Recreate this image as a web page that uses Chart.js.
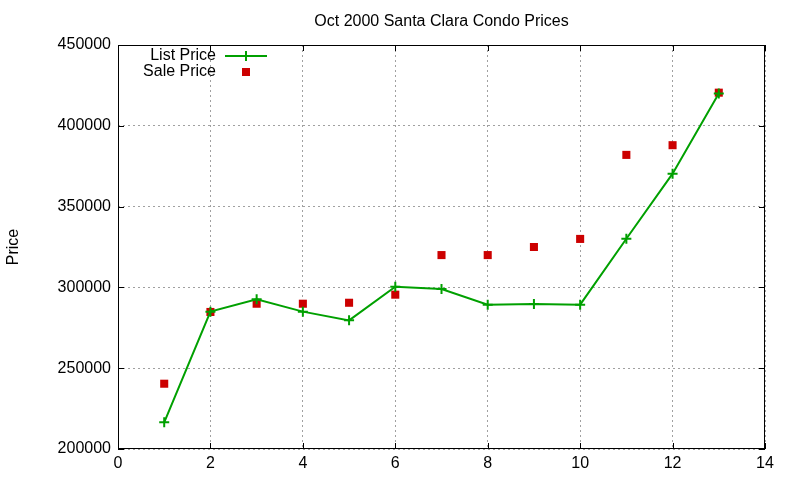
<!DOCTYPE html>
<html>
<head>
<meta charset="utf-8">
<style>
  html, body { margin: 0; padding: 0; background: #fff; }
  #wrap { width: 800px; height: 480px; }
</style>
<script src="https://cdn.jsdelivr.net/npm/chart.js@4/dist/chart.umd.min.js"></script>
</head>
<body>
<div id="wrap"><canvas id="grafico"></canvas></div>
<script>
// datos
const meses = [1, 2, 3, 4, 5, 6, 7, 8, 9, 10, 11, 12, 13];
const precioLista = [216500, 285000, 292600, 285000, 279600, 300400, 299000, 289300, 289700, 289300, 330100, 370400, 420000];
const precioVenta = [240400, 284800, 289900, 289900, 290500, 295500, 320000, 320000, 325000, 330000, 382000, 388000, 420500];
const ticksX = [0, 2, 4, 6, 8, 10, 12, 14];
const ticksY = [200000, 250000, 300000, 350000, 400000, 450000];

const VERDE = '#00a000';
const ROJO = '#cc0000';
const FUENTE = '"Liberation Sans", Arial, sans-serif';
const TITULO = 'Oct 2000 Santa Clara Condo Prices';

// marco, marcas hacia adentro, titulo y leyenda al estilo gnuplot
const marco = {
  id: 'marco',
  afterDraw(chart) {
    const ctx = chart.ctx;
    const a = chart.chartArea;
    const sx = chart.scales.x, sy = chart.scales.y;
    ctx.save();
    ctx.strokeStyle = '#000';
    ctx.lineWidth = 1;
    ctx.setLineDash([]);
    ctx.strokeRect(a.left + 0.5, a.top + 0.5, a.right - a.left - 1, a.bottom - a.top - 1);
    ctx.beginPath();
    ticksX.forEach(v => {
      const px = Math.round(sx.getPixelForValue(v)) + 0.5;
      ctx.moveTo(px, a.bottom); ctx.lineTo(px, a.bottom - 6);
      ctx.moveTo(px, a.top); ctx.lineTo(px, a.top + 6);
    });
    ticksY.forEach(v => {
      const py = Math.round(sy.getPixelForValue(v)) + 0.5;
      ctx.moveTo(a.left, py); ctx.lineTo(a.left + 6, py);
      ctx.moveTo(a.right, py); ctx.lineTo(a.right - 6, py);
    });
    ctx.stroke();

    ctx.font = '16px ' + FUENTE;
    ctx.fillStyle = '#000';
    ctx.textBaseline = 'middle';
    ctx.textAlign = 'center';
    ctx.fillText(TITULO, (a.left + a.right) / 2, 22);

    // leyenda
    ctx.textAlign = 'right';
    ctx.fillText('List Price', 216, 56);
    ctx.fillText('Sale Price', 216, 72);
    ctx.strokeStyle = VERDE;
    ctx.lineWidth = 2;
    ctx.beginPath();
    ctx.moveTo(225, 56); ctx.lineTo(267, 56);
    ctx.moveTo(246, 51); ctx.lineTo(246, 61);
    ctx.stroke();
    ctx.fillStyle = ROJO;
    ctx.fillRect(242, 68, 8, 8);
    ctx.restore();
  }
};

new Chart(document.getElementById('grafico'), {
  type: 'scatter',
  data: {
    datasets: [
      {
        label: 'List Price',
        data: meses.map((m, i) => ({ x: m, y: precioLista[i] })),
        showLine: true,
        borderColor: VERDE,
        borderWidth: 2,
        backgroundColor: VERDE,
        pointStyle: 'cross',
        pointRadius: 5,
        pointBorderWidth: 2,
        pointHoverRadius: 5
      },
      {
        label: 'Sale Price',
        data: meses.map((m, i) => ({ x: m, y: precioVenta[i] })),
        showLine: false,
        borderColor: ROJO,
        backgroundColor: ROJO,
        pointStyle: 'rect',
        pointRadius: 5.7,
        pointBorderWidth: 0,
        pointHoverRadius: 5.7
      }
    ]
  },
  options: {
    responsive: true,
    maintainAspectRatio: false,
    animation: false,
    layout: { padding: { left: 0, right: 35, top: 45, bottom: 0 } },
    font: { family: FUENTE },
    plugins: {
      legend: { display: false },
      tooltip: { enabled: false },
      title: { display: false }
    },
    scales: {
      x: {
        type: 'linear',
        min: 0,
        max: 14,
        afterFit: s => { s.height = 31; },
        afterBuildTicks: s => { s.ticks = ticksX.map(v => ({ value: v })); },
        ticks: { color: '#000', font: { family: FUENTE, size: 16 }, padding: 5, maxRotation: 0 },
        grid: { color: '#a0a0a0', drawTicks: false, tickLength: 0 },
        border: { display: false, dash: [2, 3] }
      },
      y: {
        type: 'linear',
        min: 200000,
        max: 450000,
        afterFit: s => { s.width = 118; },
        afterBuildTicks: s => { s.ticks = ticksY.map(v => ({ value: v })); },
        ticks: { color: '#000', font: { family: FUENTE, size: 16 }, padding: 7, callback: v => String(v) },
        grid: { color: '#a0a0a0', drawTicks: false, tickLength: 0 },
        border: { display: false, dash: [2, 3] },
        title: { display: true, text: 'Price', color: '#000', font: { family: FUENTE, size: 16 }, padding: { top: 4, bottom: 0 } }
      }
    }
  },
  plugins: [marco]
});
</script>
</body>
</html>
